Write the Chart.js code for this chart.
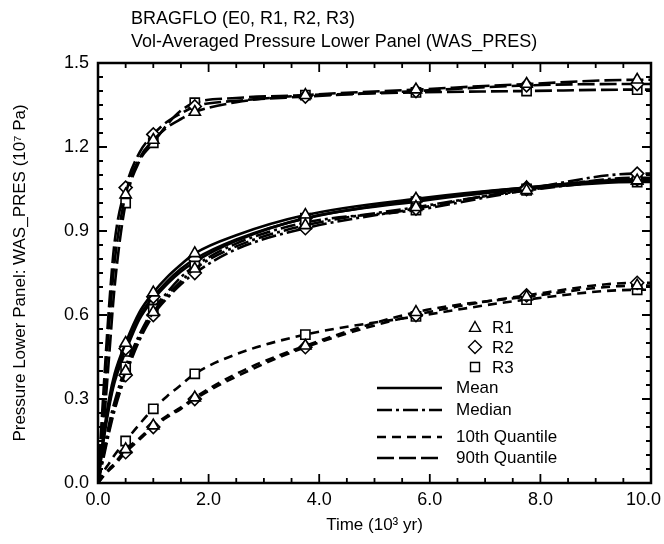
<!DOCTYPE html>
<html>
<head>
<meta charset="utf-8">
<script src="https://cdn.jsdelivr.net/npm/chart.js@4.4.1/dist/chart.umd.min.js"></script>
<style>
  html, body { margin: 0; padding: 0; background: #fff; }
</style>
</head>
<body>
<canvas id="chart" width="664" height="544"></canvas>
<script>
// time axis in 10^3 yr, markers only where a replicate symbol is plotted
const times = [0, 0.1, 0.2, 0.3, 0.5, 0.75, 1.0, 1.25, 1.5, 1.75, 2.5, 3.75, 5.75, 7.75, 9.75, 10];
const markerTimes = [0.5, 1.0, 1.75, 3.75, 5.75, 7.75, 9.75];

// pressure, 10^7 Pa
const q90R1 = [0, 0.28, 0.56, 0.79, 1.03, 1.16, 1.225, 1.27, 1.30, 1.325, 1.36, 1.385, 1.405, 1.425, 1.44, 1.44];
const q90R2 = [0, 0.33, 0.63, 0.86, 1.055, 1.18, 1.245, 1.29, 1.32, 1.345, 1.365, 1.38, 1.40, 1.42, 1.425, 1.425];
const q90R3 = [0, 0.20, 0.45, 0.70, 1.00, 1.15, 1.215, 1.28, 1.33, 1.358, 1.375, 1.385, 1.395, 1.40, 1.405, 1.405];

const meanR1 = [0, 0.17, 0.30, 0.39, 0.50, 0.61, 0.68, 0.735, 0.78, 0.82, 0.885, 0.957, 1.015, 1.055, 1.08, 1.08];
const meanR2 = [0, 0.16, 0.28, 0.37, 0.48, 0.595, 0.665, 0.72, 0.765, 0.80, 0.87, 0.945, 1.01, 1.055, 1.085, 1.085];
const meanR3 = [0, 0.15, 0.27, 0.36, 0.47, 0.585, 0.655, 0.71, 0.755, 0.79, 0.865, 0.946, 1.005, 1.05, 1.075, 1.075];

const medR1 = [0, 0.10, 0.19, 0.27, 0.40, 0.52, 0.61, 0.67, 0.72, 0.765, 0.845, 0.92, 0.985, 1.045, 1.08, 1.08];
const medR2 = [0, 0.09, 0.18, 0.26, 0.385, 0.51, 0.60, 0.66, 0.71, 0.75, 0.835, 0.91, 0.98, 1.05, 1.105, 1.105];
const medR3 = [0, 0.11, 0.21, 0.29, 0.415, 0.53, 0.62, 0.68, 0.735, 0.775, 0.855, 0.93, 0.975, 1.045, 1.09, 1.09];

const q10R1 = [0, 0.025, 0.05, 0.07, 0.12, 0.16, 0.205, 0.24, 0.27, 0.305, 0.39, 0.49, 0.61, 0.665, 0.705, 0.705];
const q10R2 = [0, 0.025, 0.045, 0.065, 0.11, 0.155, 0.20, 0.235, 0.265, 0.30, 0.38, 0.485, 0.60, 0.67, 0.715, 0.715];
const q10R3 = [0, 0.04, 0.07, 0.10, 0.15, 0.21, 0.265, 0.31, 0.35, 0.39, 0.46, 0.53, 0.595, 0.655, 0.69, 0.69];

const xTicks = [0, 2, 4, 6, 8, 10];
const yTicks = [0, 0.3, 0.6, 0.9, 1.2, 1.5];

const FONT = "'Liberation Sans', Arial, sans-serif";

const dashes = {
  mean: [],
  median: [15, 4, 3, 4],
  q10: [9, 6],
  q90: [17, 5]
};
const symbols = { R1: 'triangle', R2: 'rectRot', R3: 'rect' };

function series(values, stat, rep) {
  return {
    label: stat + ' ' + rep,
    data: times.map((t, i) => ({ x: t, y: values[i] })),
    borderColor: '#000',
    borderWidth: 2.6,
    borderDash: dashes[stat],
    cubicInterpolationMode: 'monotone',
    pointStyle: symbols[rep],
    pointRadius: times.map(t => markerTimes.includes(t) ? 6.5 : 0),
    pointHoverRadius: 0,
    pointBackgroundColor: '#fff',
    pointBorderColor: '#000',
    pointBorderWidth: 1.6
  };
}

const datasets = [
  series(q10R1, 'q10', 'R1'), series(q10R2, 'q10', 'R2'), series(q10R3, 'q10', 'R3'),
  series(medR1, 'median', 'R1'), series(medR2, 'median', 'R2'), series(medR3, 'median', 'R3'),
  series(meanR1, 'mean', 'R1'), series(meanR2, 'mean', 'R2'), series(meanR3, 'mean', 'R3'),
  series(q90R1, 'q90', 'R1'), series(q90R2, 'q90', 'R2'), series(q90R3, 'q90', 'R3')
];

// two title lines above the frame
const titleLines = {
  id: 'titleLines',
  afterDraw(chart) {
    const ctx = chart.ctx;
    ctx.save();
    ctx.fillStyle = '#000';
    ctx.font = '18px ' + FONT;
    ctx.textBaseline = 'alphabetic';
    ctx.fillText('BRAGFLO (E0, R1, R2, R3)', 131, 24);
    ctx.fillText('Vol-Averaged Pressure Lower Panel (WAS_PRES)', 131, 47);
    ctx.restore();
  }
};

// boxed frame with inward major/minor ticks on all four sides
const frameTicks = {
  id: 'frameTicks',
  afterDatasetsDraw(chart) {
    const { ctx, chartArea: a, scales } = chart;
    const x = scales.x, y = scales.y;
    ctx.save();
    ctx.strokeStyle = '#000';
    ctx.lineWidth = 2.5;
    ctx.strokeRect(a.left, a.top, a.right - a.left, a.bottom - a.top);
    ctx.lineWidth = 1.8;
    ctx.beginPath();
    for (let i = 0; i <= 20; i++) {
      const px = x.getPixelForValue(i * 0.5);
      const len = i % 4 === 0 ? 9 : 5;
      ctx.moveTo(px, a.bottom); ctx.lineTo(px, a.bottom - len);
      ctx.moveTo(px, a.top); ctx.lineTo(px, a.top + len);
    }
    for (let i = 0; i <= 30; i++) {
      const py = y.getPixelForValue(i * 0.05);
      const len = i % 6 === 0 ? 9 : 5;
      ctx.moveTo(a.left, py); ctx.lineTo(a.left + len, py);
      ctx.moveTo(a.right, py); ctx.lineTo(a.right - len, py);
    }
    ctx.stroke();

    // x tick labels, kept inside the canvas at the right end
    ctx.fillStyle = '#000';
    ctx.font = '18px ' + FONT;
    ctx.textBaseline = 'middle';
    ctx.textAlign = 'center';
    xTicks.forEach(v => {
      const txt = v.toFixed(1);
      const w = ctx.measureText(txt).width;
      let px = x.getPixelForValue(v);
      px = Math.min(px, chart.width - 3 - w / 2);
      ctx.fillText(txt, px, a.bottom + 17);
    });
    ctx.restore();
  }
};

// legend block inside the plot
const legendBlock = {
  id: 'legendBlock',
  afterDraw(chart) {
    const ctx = chart.ctx;
    ctx.save();
    ctx.fillStyle = '#000';
    ctx.strokeStyle = '#000';
    ctx.font = '17px ' + FONT;
    ctx.textBaseline = 'middle';

    const symRows = [['R1', 327], ['R2', 347], ['R3', 367]];
    symRows.forEach(([rep, yy]) => {
      ctx.lineWidth = 1.4;
      ctx.beginPath();
      const cx = 475, r = 5.5;
      if (rep === 'R1') {
        ctx.moveTo(cx, yy - r); ctx.lineTo(cx + r, yy + r * 0.8); ctx.lineTo(cx - r, yy + r * 0.8); ctx.closePath();
      } else if (rep === 'R2') {
        ctx.moveTo(cx, yy - r - 1); ctx.lineTo(cx + r + 1, yy); ctx.lineTo(cx, yy + r + 1); ctx.lineTo(cx - r - 1, yy); ctx.closePath();
      } else {
        ctx.rect(cx - 4.5, yy - 4.5, 9, 9);
      }
      ctx.stroke();
      ctx.fillText(rep, 492, yy + 1);
    });

    const lineRows = [['Mean', 'mean', 388], ['Median', 'median', 410], ['10th Quantile', 'q10', 437], ['90th Quantile', 'q90', 458]];
    lineRows.forEach(([txt, stat, yy]) => {
      ctx.lineWidth = 2.6;
      ctx.setLineDash(dashes[stat]);
      ctx.beginPath();
      ctx.moveTo(377, yy); ctx.lineTo(442, yy);
      ctx.stroke();
      ctx.setLineDash([]);
      ctx.fillText(txt, 456, yy);
    });
    ctx.restore();
  }
};

new Chart(document.getElementById('chart'), {
  type: 'line',
  data: { datasets },
  options: {
    responsive: false,
    animation: false,
    events: [],
    layout: { padding: { top: 63, right: 13, left: 0, bottom: 0 } },
    plugins: {
      legend: { display: false },
      title: { display: false },
      tooltip: { enabled: false }
    },
    scales: {
      x: {
        type: 'linear',
        min: 0, max: 10,
        grid: { display: false, drawTicks: false },
        border: { display: false },
        afterBuildTicks: s => { s.ticks = xTicks.map(v => ({ value: v })); },
        ticks: { display: false },
        title: {
          display: true,
          text: 'Time (10³ yr)',
          color: '#000',
          font: { family: FONT, size: 17 },
          padding: { top: 0, bottom: 8 }
        },
        afterFit: s => { s.height = 61; s.paddingLeft = 0; s.paddingRight = 0; }
      },
      y: {
        type: 'linear',
        min: 0, max: 1.5,
        grid: { display: false, drawTicks: false },
        border: { display: false },
        afterBuildTicks: s => { s.ticks = yTicks.map(v => ({ value: v })); },
        ticks: {
          color: '#000',
          padding: 9,
          font: { family: FONT, size: 18 },
          callback: v => v.toFixed(1)
        },
        title: {
          display: true,
          text: 'Pressure Lower Panel: WAS_PRES (10⁷ Pa)',
          color: '#000',
          font: { family: FONT, size: 17 },
          padding: { top: 10, bottom: 0 }
        },
        afterFit: s => { s.width = 98; }
      }
    }
  },
  plugins: [frameTicks, legendBlock, titleLines]
});
</script>
</body>
</html>
